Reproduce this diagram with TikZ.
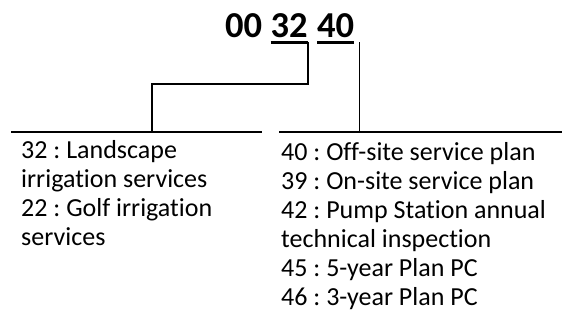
\documentclass[tikz,border=0pt]{standalone}
\usepackage{fontspec}
\setmainfont{Carlito}[Ligatures={NoCommon,NoRequired,NoContextual}]
\usetikzlibrary{calc}
\frenchspacing
\begin{document}
\begin{tikzpicture}[x=1pt,y=-1pt,
  conn/.style={line width=1.6pt},
  uline/.style={line width=3pt},
  titlefont/.style={font=\fontsize{36.5}{40}\selectfont\bfseries},
  bodytext/.style={font=\fontsize{26}{29}\selectfont\frenchspacing, inner sep=0pt, anchor=base west}]
\useasboundingbox (0,0) rectangle (563,325);
% title digits
\node[titlefont, inner sep=0pt, anchor=base west] (t1) at (225,37) {00};
\node[titlefont, inner sep=0pt, anchor=base west] (t2) at (270.5,37) {32};
\node[titlefont, inner sep=0pt, anchor=base west] (t3) at (317,37) {40};
% underlines
\coordinate (u2w) at ($(t2.base west)+(0,5)$);
\coordinate (u2e) at ($(t2.base east)+(0,5)$);
\coordinate (u3w) at ($(t3.base west)+(0,5)$);
\coordinate (u3e) at ($(t3.base east)+(0,5)$);
\draw[uline] (u2w) -- (u2e);
\draw[uline] (u3w) -- (u3e);
% shelves
\coordinate (lshelfL) at (11,132);
\coordinate (lshelfR) at (262,132);
\coordinate (rshelfL) at (279,132);
\coordinate (rshelfR) at (562,132);
\draw[conn] (lshelfL) -- (lshelfR);
\draw[conn] (rshelfL) -- (rshelfR);
% connectors
\coordinate (lj) at (152,132);
\coordinate (lbend) at ($(u2e)+(0,42)$);
\draw[conn] (u2e) -- (lbend) -| (lj);
\coordinate (rtop) at ($(u3e)+(5,0)$);
\draw[conn] (rtop) -- (rtop |- rshelfL);
% left text
\node[bodytext] (l1) at (21,158) {32 : Landscape};
\node[bodytext] (l2) at (21,187) {irrigation services};
\node[bodytext] (l3) at (21,216) {22 : Golf irrigation};
\node[bodytext] (l4) at (21,245) {services};
% right text
\node[bodytext] (r1) at (281,160) {40 : Off-site service plan};
\node[bodytext] (r2) at (281,189) {39 : On-site service plan};
\node[bodytext] (r3) at (281,218) {42 : Pump Station annual};
\node[bodytext] (r4) at (281,247) {technical inspection};
\node[bodytext] (r5) at (281,276) {45 : 5-year Plan PC};
\node[bodytext] (r6) at (281,305) {46 : 3-year Plan PC};
\end{tikzpicture}
\end{document}
